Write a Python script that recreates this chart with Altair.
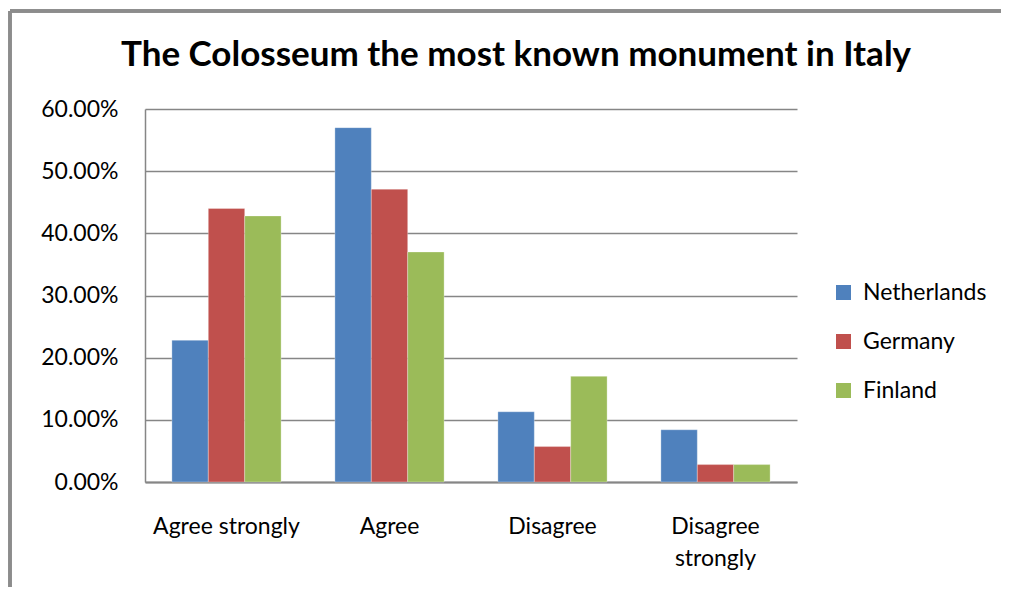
import altair as alt
import pandas as pd

categories = ["Agree strongly", "Agree", "Disagree", "Disagree strongly"]
countries = ["Netherlands", "Germany", "Finland"]
netherlands = [0.228, 0.570, 0.113, 0.084]
germany = [0.440, 0.471, 0.057, 0.028]
finland = [0.428, 0.370, 0.170, 0.028]
colors = ["#4F81BD", "#C0504D", "#9BBB59"]
title_text = "The Colosseum the most known monument in Italy"

rows = []
for cname, vals in zip(countries, [netherlands, germany, finland]):
    for cat, v in zip(categories, vals):
        rows.append({"category": cat, "country": cname, "value": v})
df = pd.DataFrame(rows)

FONT = "Lato"

bars = alt.Chart(df).mark_bar(stroke="white", strokeWidth=0.5, strokeOpacity=0.6).encode(
    x=alt.X("category:N", sort=categories,
            scale=alt.Scale(paddingInner=0.33, paddingOuter=0.165),
            axis=alt.Axis(title=None, labelAngle=0, ticks=False, labelPadding=33,
                          labelFontSize=23, labelFont=FONT, labelColor="#000000",
                          labelLineHeight=32,
                          labelExpr="datum.label == 'Disagree strongly' ? ['Disagree', 'strongly'] : datum.label",
                          domainColor="#868686", domainWidth=2)),
    xOffset=alt.XOffset("country:N", sort=countries),
    y=alt.Y("value:Q", scale=alt.Scale(domain=[0, 0.6], nice=False),
            axis=alt.Axis(title=None, format=".2%", values=[0, 0.1, 0.2, 0.3, 0.4, 0.5, 0.6],
                          ticks=False, labelPadding=27, labelFontSize=23, labelFont=FONT,
                          labelColor="#000000", gridColor="#868686", gridWidth=1.5,
                          domainColor="#868686", domainWidth=1.5)),
    color=alt.Color("country:N", sort=countries,
                    scale=alt.Scale(domain=countries, range=colors),
                    legend=alt.Legend(title=None, orient="none", legendX=687, legendY=172,
                                      symbolType="square", symbolSize=225, symbolStrokeWidth=0,
                                      labelFontSize=23, labelFont=FONT, labelColor="#000000",
                                      labelOffset=8, rowPadding=25)),
)

title = alt.Chart(pd.DataFrame({"t": [title_text]})).mark_text(
    font=FONT, fontSize=35, fontWeight="bold", color="#000000",
    align="center", baseline="alphabetic"
).encode(text="t:N", x=alt.value(371), y=alt.value(-43))

frame_top = alt.Chart(df).mark_rule(color="#8c8c8c", strokeWidth=2.5).encode(
    x=alt.value(-135), x2=alt.value(856), y=alt.value(-98)
)
frame_left = alt.Chart(df).mark_rule(color="#8c8c8c", strokeWidth=2.5).encode(
    x=alt.value(-135), y=alt.value(-98), y2=alt.value(479)
)

chart = alt.layer(bars, title, frame_top, frame_left).properties(
    width=652, height=373,
    background="white",
    autosize=alt.AutoSizeParams(type="none"),
    padding={"left": 137, "top": 101, "right": 204, "bottom": 105},
).configure_view(stroke=None)

chart.save("out.html", embed_options={"renderer": "svg", "actions": False})
